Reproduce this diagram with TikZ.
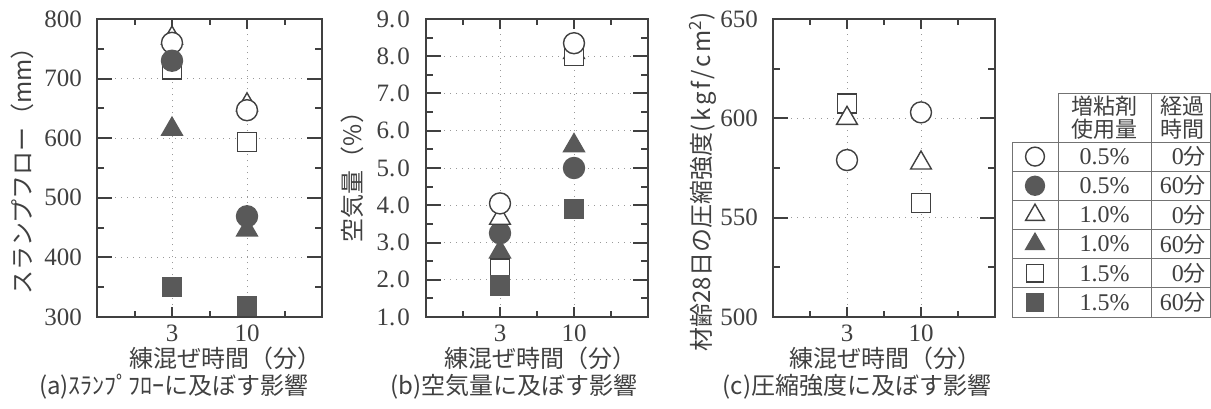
\documentclass[tikz,border=0pt]{standalone}
\usepackage{fontspec}
\setmainfont{Liberation Serif}
\newfontfamily\jp{Noto Sans CJK JP}
\usetikzlibrary{shapes.geometric}
\definecolor{ink}{gray}{0.25}
\definecolor{fillmk}{gray}{0.35}
\tikzset{
  frame/.style={draw=ink, line width=2.4pt},
  gridline/.style={draw=black!40, line width=1pt, dash pattern=on 1pt off 5pt},
  tick/.style={draw=ink, line width=2pt},
  tabline/.style={draw=black!55, line width=0.9pt},
  ticklab/.style={inner sep=0pt, text=ink, font=\fontsize{25}{25}\selectfont},
  axlab/.style={inner sep=0pt, text=ink, font=\jp\fontsize{24}{24}\selectfont},
  tablab/.style={inner sep=0pt, text=ink, font=\fontsize{24}{24}\selectfont},
  mk/.style={draw=ink, line width=1.4pt, inner sep=0pt, fill=white},
  ocirc/.style={mk, circle, minimum size=21pt},
  fcirc/.style={ocirc, draw=fillmk, fill=fillmk},
  otri/.style={mk, regular polygon, regular polygon sides=3, minimum size=24pt},
  ftri/.style={otri, draw=fillmk, fill=fillmk},
  osq/.style={mk, rectangle, minimum size=19pt},
  fsq/.style={osq, draw=fillmk, fill=fillmk}
}
\begin{document}
\begin{tikzpicture}[x=1pt,y=1pt]
\useasboundingbox (0,0) rectangle (1211,408);

% (a) slump flow
\begin{scope}[shift={(97,-87.8)}, y=0.596pt]
  \foreach \v in {400,500,600,700}
    \draw[gridline] (0,\v) -- (225,\v);
  \foreach \t in {75,150}
    \draw[gridline] (\t,300) -- (\t,800);
  \foreach \v in {400,500,600,700}{
    \draw[tick] (0,\v) -- ++(15pt,0pt);
    \draw[tick] (225,\v) -- ++(-15pt,0pt);}
  \foreach \v in {350,450,550,650,750}{
    \draw[tick] (0,\v) -- ++(7pt,0pt);
    \draw[tick] (225,\v) -- ++(-7pt,0pt);}
  \foreach \t/\l in {37.5/6,75/10,112.5/6,150/10,187.5/6}{
    \draw[tick] (\t,300) -- ++(0pt,\l pt);
    \draw[tick] (\t,800) -- ++(0pt,-\l pt);}
  \draw[frame] (0,300) rectangle (225,800);
  \foreach \v in {300,400,...,800}
    \node[ticklab, anchor=east] (ya\v) at (-15,\v) {\v};
  \node[ticklab, anchor=north, yshift=-8pt] (xa3) at (75,300) {3};
  \node[ticklab, anchor=north, yshift=-8pt] (xa10) at (150,300) {10};
  \node[otri] (a3ot) at (75,768) {};
  \node[ocirc] (a3oc) at (75,760) {};
  \node[osq] (a3os) at (75,715) {};
  \node[fcirc] (a3fc) at (75,730) {};
  \node[ftri] (a3ft) at (75,615) {};
  \node[fsq] (a3fs) at (75,350) {};
  \node[otri] (a10ot) at (150,656) {};
  \node[ocirc] (a10oc) at (150,647) {};
  \node[osq] (a10os) at (150,594) {};
  \node[fcirc] (a10fc) at (150,469) {};
  \node[ftri] (a10ft) at (150,446) {};
  \node[fsq] (a10fs) at (150,318) {};
\end{scope}
\node[axlab, rotate=90] (yla) at (22,243) {スランプフロー（mm）};
\node[axlab] (xla) at (225,50) {練混ぜ時間（分）};
\node[axlab] (capa) at (174,21) {(a)ｽﾗﾝﾌﾟﾌﾛｰに及ぼす影響};

% (b) air content
\begin{scope}[shift={(426,53.75)}, y=37.25pt]
  \foreach \v in {2,...,8}
    \draw[gridline] (0,\v) -- (222,\v);
  \foreach \t in {74,148}
    \draw[gridline] (\t,1) -- (\t,9);
  \foreach \v in {2,...,8}{
    \draw[tick] (0,\v) -- ++(15pt,0pt);
    \draw[tick] (222,\v) -- ++(-15pt,0pt);}
  \foreach \v in {1.5,2.5,...,8.5}{
    \draw[tick] (0,\v) -- ++(7pt,0pt);
    \draw[tick] (222,\v) -- ++(-7pt,0pt);}
  \foreach \t/\l in {37/6,74/10,111/6,148/10,185/6}{
    \draw[tick] (\t,1) -- ++(0pt,\l pt);
    \draw[tick] (\t,9) -- ++(0pt,-\l pt);}
  \draw[frame] (0,1) rectangle (222,9);
  \foreach \v in {1,...,9}
    \node[ticklab, anchor=east] (yb\v) at (-16,\v) {\v.\kern2pt0};
  \node[ticklab, anchor=north, yshift=-8pt] (xb3) at (74,1) {3};
  \node[ticklab, anchor=north, yshift=-8pt] (xb10) at (148,1) {10};
  \node[ftri] (b3ft) at (74,2.75) {};
  \node[osq] (b3os) at (74,2.3) {};
  \node[fsq] (b3fs) at (74,1.85) {};
  \node[fcirc] (b3fc) at (74,3.25) {};
  \node[otri] (b3ot) at (74,3.65) {};
  \node[ocirc] (b3oc) at (74,4.05) {};
  \node[otri] (b10ot) at (148,8.1) {};
  \node[osq] (b10os) at (148,8.0) {};
  \node[ocirc] (b10oc) at (148,8.35) {};
  \node[ftri] (b10ft) at (148,5.6) {};
  \node[fcirc] (b10fc) at (148,5.0) {};
  \node[fsq] (b10fs) at (148,3.9) {};
\end{scope}
\node[axlab, rotate=90] (ylb) at (352,237) {空気量（\%）};
\node[axlab] (xlb) at (540,50) {練混ぜ時間（分）};
\node[axlab] (capb) at (514,21) {(b)空気量に及ぼす影響};

% (c) compressive strength
\begin{scope}[shift={(773,-902.33)}, y=1.98667pt]
  \foreach \v in {550,600}
    \draw[gridline] (0,\v) -- (222,\v);
  \foreach \t in {74,148}
    \draw[gridline] (\t,500) -- (\t,650);
  \foreach \v in {550,600}{
    \draw[tick] (0,\v) -- ++(15pt,0pt);
    \draw[tick] (222,\v) -- ++(-15pt,0pt);}
  \foreach \v in {525,575,625}{
    \draw[tick] (0,\v) -- ++(7pt,0pt);
    \draw[tick] (222,\v) -- ++(-7pt,0pt);}
  \foreach \t/\l in {37/6,74/10,111/6,148/10,185/6}{
    \draw[tick] (\t,500) -- ++(0pt,\l pt);
    \draw[tick] (\t,650) -- ++(0pt,-\l pt);}
  \draw[frame] (0,500) rectangle (222,650);
  \foreach \v in {500,550,600,650}
    \node[ticklab, anchor=east] (yc\v) at (-15,\v) {\v};
  \node[ticklab, anchor=north, yshift=-8pt] (xc3) at (74,500) {3};
  \node[ticklab, anchor=north, yshift=-8pt] (xc10) at (148,500) {10};
  \node[osq] (c3os) at (74,607.5) {};
  \node[otri] (c3ot) at (74,600) {};
  \node[ocirc] (c3oc) at (74,579) {};
  \node[ocirc] (c10oc) at (148,603) {};
  \node[otri] (c10ot) at (148,577.5) {};
  \node[osq] (c10os) at (148,557.5) {};
\end{scope}
\node[axlab, rotate=90] (ylc) at (703,226) {材齢28日の圧縮強度{\addfontfeature{LetterSpace=12}(kgf/cm\textsuperscript{2})}};
\node[axlab] (xlc) at (885,50) {練混ぜ時間（分）};
\node[axlab] (capc) at (857,21) {(c)圧縮強度に及ぼす影響};

% legend table
\draw[tabline] (1058,266) -- (1058,315) -- (1210,315) -- (1210,91) -- (1012,91) -- (1012,266) -- (1210,266);
\draw[tabline] (1058,91) -- (1058,266);
\draw[tabline] (1151,91) -- (1151,315);
\foreach \k in {1,...,5}
  \draw[tabline] (1012,266-\k*29.17) -- (1210,266-\k*29.17);
\node[tablab, font=\jp\fontsize{22}{23}\selectfont, align=center] (hd1) at (1104.5,290.5) {増粘剤\\使用量};
\node[tablab, font=\jp\fontsize{22}{23}\selectfont, align=center] (hd2) at (1182,290.5) {経過\\時間};
\foreach \k/\s/\p/\m in {1/ocirc/0.5/0,2/fcirc/0.5/60,3/otri/1.0/0,4/ftri/1.0/60,5/osq/1.5/0,6/fsq/1.5/60}{
  \node[\s, scale=0.9] (lg\k) at (1035,266-\k*29.17+14.58) {};
  \node[tablab] (lp\k) at (1104.5,266-\k*29.17+14.58) {\p\%};
  \node[tablab, anchor=east] (lt\k) at (1206,266-\k*29.17+14.58) {\m{\jp\fontsize{22}{22}\selectfont 分}};
}
\end{tikzpicture}
\end{document}
